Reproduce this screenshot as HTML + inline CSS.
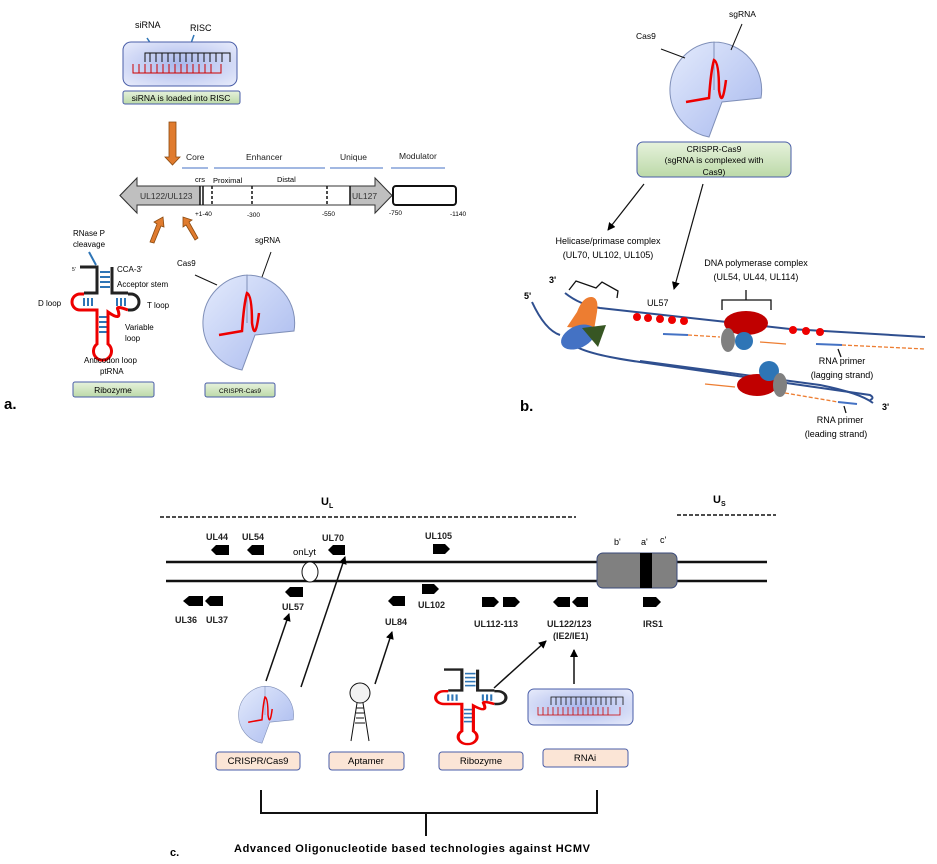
<!DOCTYPE html>
<html><head><meta charset="utf-8"><style>
html,body{margin:0;padding:0;background:#fff}
svg{display:block;font-family:"Liberation Sans",sans-serif}
</style></head><body>
<svg width="937" height="864" viewBox="0 0 937 864" xmlns="http://www.w3.org/2000/svg">
<defs>
<linearGradient id="gb" x1="0" y1="0" x2="0" y2="1"><stop offset="0" stop-color="#e6f2dc"/><stop offset="1" stop-color="#bcd9a8"/></linearGradient>
<radialGradient id="rb" cx="0.5" cy="0.5" r="0.7"><stop offset="0" stop-color="#a9b7ec"/><stop offset="1" stop-color="#e8ecfb"/></radialGradient>
<linearGradient id="cas" x1="0" y1="0" x2="1" y2="1"><stop offset="0" stop-color="#e4ebfc"/><stop offset="1" stop-color="#a7b8ee"/></linearGradient>
<marker id="ah" markerWidth="8" markerHeight="8" refX="7" refY="4" orient="auto" markerUnits="userSpaceOnUse"><path d="M0,0 L8,4 L0,8 Z" fill="#000"/></marker>
<g id="ribo">
 <path d="M80,267 H97 V293 H84" fill="none" stroke="#222" stroke-width="3"/>
 <path d="M112,267 V293 H128" fill="none" stroke="#222" stroke-width="3"/>
 <g stroke="#2e75b6" stroke-width="2"><line x1="100" y1="272" x2="110" y2="272"/><line x1="100" y1="277" x2="110" y2="277"/><line x1="100" y1="282" x2="110" y2="282"/><line x1="100" y1="287" x2="110" y2="287"/>
 <line x1="84" y1="298" x2="84" y2="306"/><line x1="88" y1="298" x2="88" y2="306"/><line x1="92" y1="298" x2="92" y2="306"/>
 <line x1="117" y1="298" x2="117" y2="306"/><line x1="121" y1="298" x2="121" y2="306"/><line x1="125" y1="298" x2="125" y2="306"/>
 <line x1="99" y1="317" x2="107" y2="317"/><line x1="99" y1="322" x2="107" y2="322"/><line x1="99" y1="327" x2="107" y2="327"/><line x1="99" y1="332" x2="107" y2="332"/></g>
 <path d="M84,294 H80 A8,8 0 1 0 80,310 H97 V344 A9,9 0 1 0 108,344 V312 Q122,322 118,310 Q115,305 128,310" fill="none" stroke="#e00" stroke-width="3"/>
 <path d="M128,294 H131 A8,8 0 1 1 131,310 H128" fill="none" stroke="#222" stroke-width="3"/>
</g>
<g id="cas9">
 <path d="M0,0 L0,-48 A48,48 0 0 1 47,8 L8,12 L-5,47 A48,48 0 0 1 0,-48 Z" fill="url(#cas)" stroke="#7f8fb8" stroke-width="1"/>
 <path d="M-28,12 L-5,8 Q-3,-20 0,-30 Q5,-28 5,0 Q8,20 12,-10" fill="none" stroke="#e00" stroke-width="2.5"/>
</g>
</defs>

<!-- PANEL A -->
<text x="135" y="28" font-size="9">siRNA</text><text x="190" y="31" font-size="9">RISC</text>
<line x1="147" y1="38" x2="155" y2="50" stroke="#2e75b6" stroke-width="1.5"/>
<line x1="194" y1="35" x2="190" y2="46" stroke="#2e75b6" stroke-width="1.5"/>
<rect x="123" y="42" width="114" height="44" rx="8" fill="url(#rb)" stroke="#4a5ea8"/>
<path d="M145,62 V53 H230 V62" fill="none" stroke="#111" stroke-width="1"/>
<g stroke="#111" stroke-width="1"><line x1="150" y1="53" x2="150" y2="62"/><line x1="156" y1="53" x2="156" y2="62"/><line x1="162" y1="53" x2="162" y2="62"/><line x1="168" y1="53" x2="168" y2="62"/><line x1="174" y1="53" x2="174" y2="62"/><line x1="180" y1="53" x2="180" y2="62"/><line x1="186" y1="53" x2="186" y2="62"/><line x1="192" y1="53" x2="192" y2="62"/><line x1="198" y1="53" x2="198" y2="62"/><line x1="204" y1="53" x2="204" y2="62"/><line x1="210" y1="53" x2="210" y2="62"/><line x1="216" y1="53" x2="216" y2="62"/><line x1="222" y1="53" x2="222" y2="62"/></g>
<path d="M133,64 V73 H221 V64" fill="none" stroke="#c00" stroke-width="1"/>
<g stroke="#c00" stroke-width="1"><line x1="139" y1="64" x2="139" y2="73"/><line x1="145" y1="64" x2="145" y2="73"/><line x1="151" y1="64" x2="151" y2="73"/><line x1="157" y1="64" x2="157" y2="73"/><line x1="163" y1="64" x2="163" y2="73"/><line x1="169" y1="64" x2="169" y2="73"/><line x1="175" y1="64" x2="175" y2="73"/><line x1="181" y1="64" x2="181" y2="73"/><line x1="187" y1="64" x2="187" y2="73"/><line x1="193" y1="64" x2="193" y2="73"/><line x1="199" y1="64" x2="199" y2="73"/><line x1="205" y1="64" x2="205" y2="73"/><line x1="211" y1="64" x2="211" y2="73"/></g>
<rect x="123" y="91" width="117" height="13" rx="2" fill="url(#gb)" stroke="#4a5ea8"/>
<text x="181" y="101" font-size="8.5" text-anchor="middle">siRNA is loaded into RISC</text>
<path d="M169,122 H176 V157 H180 L172.5,165 L165,157 H169 Z" fill="#e07b2e" stroke="#8a4a10" stroke-width="0.8"/>
<g font-size="8.5" fill="#222"><text x="186" y="160">Core</text><text x="246" y="160">Enhancer</text><text x="340" y="160">Unique</text><text x="399" y="159">Modulator</text></g>
<g stroke="#4472c4" stroke-width="1"><line x1="182" y1="168" x2="208" y2="168"/><line x1="214" y1="168" x2="325" y2="168"/><line x1="330" y1="168" x2="383" y2="168"/><line x1="391" y1="168" x2="445" y2="168"/></g>
<g font-size="7.5"><text x="195" y="182">crs</text><text x="213" y="183">Proximal</text><text x="277" y="182">Distal</text></g>
<path d="M120,195.5 L137,178 V186 H375 V178 L392,195.5 L375,213 V205 H137 V213 Z" fill="#fff" stroke="#333"/>
<path d="M120,195.5 L137,178 V186 H200 V205 H137 V213 Z" fill="#bfbfbf" stroke="#333"/>
<path d="M350,186 H375 V178 L392,195.5 L375,213 V205 H350 Z" fill="#bfbfbf" stroke="#333"/>
<g stroke="#111" stroke-width="1.5"><line x1="200" y1="186" x2="200" y2="205"/><line x1="203" y1="186" x2="203" y2="205"/><line x1="350" y1="186" x2="350" y2="205"/></g>
<g stroke="#111" stroke-width="1.5" stroke-dasharray="3,2"><line x1="212" y1="186" x2="212" y2="205"/><line x1="252" y1="186" x2="252" y2="205"/><line x1="327" y1="186" x2="327" y2="205"/></g>
<text x="140" y="199" font-size="8.5" fill="#333">UL122/UL123</text><text x="352" y="199" font-size="8.5" fill="#333">UL127</text>
<rect x="393" y="186" width="63" height="19" rx="3" fill="#fff" stroke="#111" stroke-width="2"/>
<g font-size="6.5"><text x="195" y="216">+1-40</text><text x="247" y="217">-300</text><text x="322" y="216">-550</text><text x="389" y="215">-750</text><text x="450" y="216">-1140</text></g>
<path d="M150,242 L157,224 L154,222 L163,217 L164,227 L161,226 L154,243 Z" fill="#e07b2e" stroke="#8a4a10" stroke-width="0.8"/>
<path d="M195,240 L186,225 L183,227 L183,217 L192,220 L189,222 L198,238 Z" fill="#e07b2e" stroke="#8a4a10" stroke-width="0.8"/>
<text x="73" y="236" font-size="8">RNase P</text><text x="73" y="247" font-size="8">cleavage</text>
<line x1="89" y1="252" x2="96" y2="265" stroke="#2e75b6" stroke-width="2"/>
<use href="#ribo"/>
<g font-size="8"><text x="72" y="271" font-size="5">5'</text><text x="117" y="272">CCA-3'</text><text x="117" y="287">Acceptor stem</text><text x="38" y="306">D loop</text><text x="147" y="308">T loop</text><text x="125" y="330">Variable</text><text x="125" y="341">loop</text><text x="84" y="363">Anticodon loop</text><text x="100" y="374">ptRNA</text></g>
<rect x="73" y="382" width="81" height="15" rx="2" fill="url(#gb)" stroke="#4a5ea8"/>
<text x="113" y="393" font-size="8.5" text-anchor="middle">Ribozyme</text>
<text x="177" y="266" font-size="8">Cas9</text><text x="255" y="243" font-size="8">sgRNA</text>
<g transform="translate(247,323)"><use href="#cas9"/></g>
<line x1="195" y1="275" x2="217" y2="285" stroke="#111"/><line x1="271" y1="252" x2="262" y2="277" stroke="#111"/>
<rect x="205" y="383" width="70" height="14" rx="2" fill="url(#gb)" stroke="#4a5ea8"/>
<text x="240" y="393" font-size="6.5" text-anchor="middle">CRISPR-Cas9</text>
<text x="4" y="409" font-size="15" font-weight="bold">a.</text>

<!-- PANEL B -->
<text x="729" y="17" font-size="8.5">sgRNA</text><text x="636" y="39" font-size="8.5">Cas9</text>
<g transform="translate(714,90)"><use href="#cas9"/></g>
<line x1="661" y1="49" x2="685" y2="58" stroke="#111"/><line x1="742" y1="24" x2="731" y2="50" stroke="#111"/>
<rect x="637" y="142" width="154" height="35" rx="6" fill="url(#gb)" stroke="#4a5ea8"/>
<g font-size="8.5" text-anchor="middle"><text x="714" y="152">CRISPR-Cas9</text><text x="714" y="163">(sgRNA is complexed with</text><text x="714" y="175">Cas9)</text></g>
<line x1="644" y1="184" x2="608" y2="230" stroke="#111" stroke-width="1.2" marker-end="url(#ah)"/>
<line x1="703" y1="184" x2="674" y2="289" stroke="#111" stroke-width="1.2" marker-end="url(#ah)"/>
<g font-size="9" text-anchor="middle"><text x="608" y="244">Helicase/primase complex</text><text x="608" y="258">(UL70, UL102, UL105)</text><text x="756" y="266">DNA polymerase complex</text><text x="756" y="280">(UL54, UL44, UL114)</text></g>
<path d="M569,290 L576,281 L596,288 L602,282 L618,291 L617,298" fill="none" stroke="#111" stroke-width="1.3"/>
<path d="M722,310 V300 H746 V290 M746,300 H771 V310" fill="none" stroke="#111" stroke-width="1.3"/>
<g font-size="9" font-weight="bold"><text x="549" y="283">3'</text><text x="524" y="299">5'</text><text x="882" y="410">3'</text></g>
<text x="647" y="306" font-size="9">UL57</text>
<path d="M565,293 Q580,305 600,308 L790,329 L925,337" fill="none" stroke="#2f4f8f" stroke-width="2"/>
<path d="M532,302 Q545,330 560,335" fill="none" stroke="#2f4f8f" stroke-width="2"/>
<path d="M575,346 Q590,355 640,362 L870,395 Q875,398 870,400" fill="none" stroke="#2f4f8f" stroke-width="2"/>
<path d="M640,361 L820,385 Q860,393 873,403" fill="none" stroke="#2f4f8f" stroke-width="2"/>
<path d="M577,312 Q583,296 592,297 Q599,298 597,312 L594,330 L567,327 Z" fill="#ed7d31"/>
<ellipse cx="578" cy="337" rx="18" ry="11" fill="#4472c4" transform="rotate(-25 578 337)"/>
<path d="M582,328 L606,325 L598,347 Z" fill="#375623"/>
<g fill="#e00"><circle cx="637" cy="317" r="4"/><circle cx="648" cy="318" r="4"/><circle cx="660" cy="319" r="4"/><circle cx="672" cy="320" r="4"/><circle cx="684" cy="321" r="4"/><circle cx="793" cy="330" r="4"/><circle cx="806" cy="331" r="4"/><circle cx="820" cy="332" r="4"/></g>
<ellipse cx="746" cy="323" rx="22" ry="12" fill="#c00000"/>
<ellipse cx="728" cy="340" rx="7" ry="12" fill="#808080"/>
<circle cx="744" cy="341" r="9" fill="#2e75b6"/>
<ellipse cx="757" cy="385" rx="20" ry="11" fill="#c00000"/>
<circle cx="769" cy="371" r="10" fill="#2e75b6"/>
<ellipse cx="780" cy="385" rx="7" ry="12" fill="#808080"/>
<g stroke="#4472c4" stroke-width="2"><line x1="663" y1="334" x2="688" y2="335"/><line x1="816" y1="344" x2="842" y2="345"/><line x1="838" y1="402" x2="857" y2="404"/></g>
<g stroke="#ed7d31" stroke-width="1.3" stroke-dasharray="4,2"><line x1="688" y1="335" x2="720" y2="337"/><line x1="842" y1="345" x2="925" y2="349"/><line x1="785" y1="393" x2="838" y2="402"/></g>
<line x1="760" y1="342" x2="786" y2="344" stroke="#ed7d31" stroke-width="1.3"/>
<line x1="705" y1="384" x2="735" y2="387" stroke="#ed7d31" stroke-width="1.3"/>
<line x1="838" y1="349" x2="841" y2="357" stroke="#111" stroke-width="1.3"/><line x1="844" y1="406" x2="846" y2="413" stroke="#111" stroke-width="1.3"/>
<g font-size="9" text-anchor="middle"><text x="842" y="364">RNA primer</text><text x="842" y="378">(lagging strand)</text><text x="840" y="423">RNA primer</text><text x="836" y="437">(leading strand)</text></g>
<text x="520" y="411" font-size="15" font-weight="bold">b.</text>

<!-- PANEL C -->
<text x="321" y="505" font-size="11" font-weight="bold">U<tspan font-size="7" dy="3">L</tspan></text>
<text x="713" y="503" font-size="11" font-weight="bold">U<tspan font-size="7" dy="3">S</tspan></text>
<line x1="160" y1="517" x2="576" y2="517" stroke="#111" stroke-width="1.5" stroke-dasharray="4,2"/>
<line x1="677" y1="515" x2="776" y2="515" stroke="#111" stroke-width="1.5" stroke-dasharray="4,2"/>
<line x1="166" y1="562" x2="597" y2="562" stroke="#111" stroke-width="2.5"/>
<line x1="166" y1="581" x2="597" y2="581" stroke="#111" stroke-width="2.5"/>
<line x1="677" y1="562" x2="767" y2="562" stroke="#111" stroke-width="2.5"/>
<line x1="677" y1="581" x2="767" y2="581" stroke="#111" stroke-width="2.5"/>
<rect x="597" y="553" width="80" height="35" rx="6" fill="#808080" stroke="#3a4a7a"/>
<rect x="640" y="553" width="12" height="35" fill="#000"/>
<g font-size="9"><text x="614" y="545">b'</text><text x="641" y="545">a'</text><text x="660" y="543">c'</text></g>
<ellipse cx="310" cy="572" rx="8" ry="10" fill="#fff" stroke="#111"/>
<g fill="#000">
<path d="M211,550 L216,545 H229 V555 H216 Z"/><path d="M247,550 L252,545 H264 V555 H252 Z"/><path d="M328,550 L333,545 H345 V555 H333 Z"/>
<path d="M433,544 H445 L450,549 L445,554 H433 Z"/>
<path d="M285,592 L290,587 H303 V597 H290 Z"/>
<path d="M183,601 L189,596 H203 V606 H189 Z"/><path d="M205,601 L210,596 H223 V606 H210 Z"/>
<path d="M388,601 L393,596 H405 V606 H393 Z"/>
<path d="M422,584 H434 L439,589 L434,594 H422 Z"/>
<path d="M482,597 H494 L499,602 L494,607 H482 Z"/><path d="M503,597 H515 L520,602 L515,607 H503 Z"/>
<path d="M553,602 L558,597 H570 V607 H558 Z"/><path d="M572,602 L577,597 H588 V607 H577 Z"/>
<path d="M643,597 H656 L661,602 L656,607 H643 Z"/>
</g>
<g font-size="9" font-weight="bold" fill="#222">
<text x="206" y="540">UL44</text><text x="242" y="540">UL54</text><text x="322" y="541">UL70</text><text x="425" y="539">UL105</text>
<text x="282" y="610">UL57</text><text x="175" y="623">UL36</text><text x="206" y="623">UL37</text><text x="385" y="625">UL84</text><text x="418" y="608">UL102</text>
<text x="474" y="627">UL112-113</text><text x="547" y="627">UL122/123</text><text x="553" y="639">(IE2/IE1)</text><text x="643" y="627">IRS1</text>
</g>
<text x="293" y="555" font-size="9.5">onLyt</text>
<g stroke="#111" stroke-width="1.5" fill="none">
<line x1="266" y1="681" x2="289" y2="614" marker-end="url(#ah)"/>
<line x1="301" y1="687" x2="345" y2="557" marker-end="url(#ah)"/>
<line x1="375" y1="684" x2="392" y2="632" marker-end="url(#ah)"/>
<line x1="494" y1="688" x2="546" y2="641" marker-end="url(#ah)"/>
<line x1="574" y1="684" x2="574" y2="650" marker-end="url(#ah)"/>
</g>
<g transform="translate(265,715) scale(0.6)"><use href="#cas9"/></g>
<circle cx="360" cy="693" r="10" fill="#f2f2f2" stroke="#111"/>
<path d="M357,703 L351,741 M363,703 L369,741" stroke="#111" fill="none"/>
<g stroke="#111"><line x1="356" y1="708" x2="364" y2="708"/><line x1="356" y1="713" x2="364" y2="713"/><line x1="356" y1="718" x2="364" y2="718"/><line x1="355" y1="723" x2="365" y2="723"/></g>
<g transform="translate(360,456) scale(1.05,0.8)"><use href="#ribo"/></g>
<rect x="528" y="689" width="105" height="36" rx="6" fill="url(#rb)" stroke="#4a5ea8"/>
<path d="M551,705 V697 H623 V705" fill="none" stroke="#111" stroke-width="0.8"/>
<g stroke="#111" stroke-width="0.8"><line x1="556" y1="697" x2="556" y2="705"/><line x1="561" y1="697" x2="561" y2="705"/><line x1="566" y1="697" x2="566" y2="705"/><line x1="571" y1="697" x2="571" y2="705"/><line x1="576" y1="697" x2="576" y2="705"/><line x1="581" y1="697" x2="581" y2="705"/><line x1="586" y1="697" x2="586" y2="705"/><line x1="591" y1="697" x2="591" y2="705"/><line x1="596" y1="697" x2="596" y2="705"/><line x1="601" y1="697" x2="601" y2="705"/><line x1="606" y1="697" x2="606" y2="705"/><line x1="611" y1="697" x2="611" y2="705"/><line x1="616" y1="697" x2="616" y2="705"/></g>
<path d="M538,707 V715 H620 V707" fill="none" stroke="#c00" stroke-width="0.8"/>
<g stroke="#c00" stroke-width="0.8"><line x1="543" y1="707" x2="543" y2="715"/><line x1="548" y1="707" x2="548" y2="715"/><line x1="553" y1="707" x2="553" y2="715"/><line x1="558" y1="707" x2="558" y2="715"/><line x1="563" y1="707" x2="563" y2="715"/><line x1="568" y1="707" x2="568" y2="715"/><line x1="573" y1="707" x2="573" y2="715"/><line x1="578" y1="707" x2="578" y2="715"/><line x1="583" y1="707" x2="583" y2="715"/><line x1="588" y1="707" x2="588" y2="715"/><line x1="593" y1="707" x2="593" y2="715"/><line x1="598" y1="707" x2="598" y2="715"/><line x1="603" y1="707" x2="603" y2="715"/><line x1="608" y1="707" x2="608" y2="715"/></g>
<g fill="#fbe5d6" stroke="#4a5ea8">
<rect x="216" y="752" width="84" height="18" rx="3"/><rect x="329" y="752" width="75" height="18" rx="3"/><rect x="439" y="752" width="84" height="18" rx="3"/><rect x="543" y="749" width="85" height="18" rx="3"/>
</g>
<g font-size="9.5" text-anchor="middle"><text x="258" y="764">CRISPR/Cas9</text><text x="366" y="764">Aptamer</text><text x="481" y="764">Ribozyme</text><text x="585" y="761">RNAi</text></g>
<path d="M261,790 V813 H597 V790 M426,813 V836" fill="none" stroke="#111" stroke-width="2"/>
<text x="170" y="856" font-size="11" font-weight="bold">c.</text>
<text x="234" y="852" font-size="11" font-weight="bold" textLength="356">Advanced Oligonucleotide based technologies against HCMV</text>
</svg>
</body></html>
